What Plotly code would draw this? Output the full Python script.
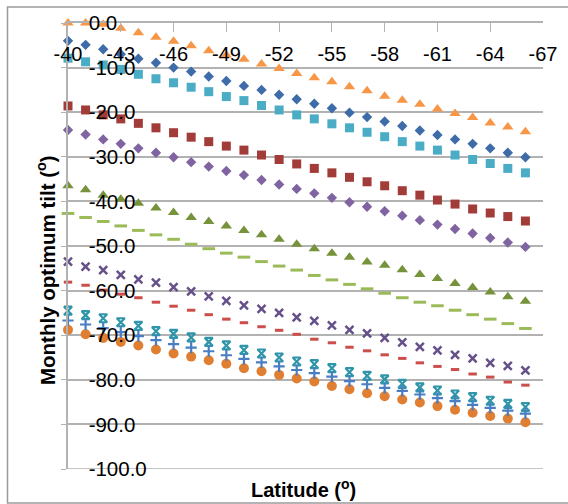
import plotly.graph_objects as go

# ---------------- data ----------------
latitude = [-40, -41, -42, -43, -44, -45, -46, -47, -48, -49, -50, -51, -52, -53,
            -54, -55, -56, -57, -58, -59, -60, -61, -62, -63, -64, -65, -66]

x_tick_vals = [-40, -43, -46, -49, -52, -55, -58, -61, -64, -67]
x_tick_text = ["-40", "-43", "-46", "-49", "-52", "-55", "-58", "-61", "-64", "-67"]
y_tick_vals = [0, -10, -20, -30, -40, -50, -60, -70, -80, -90, -100]
y_tick_text = ["0.0", "-10.0", "-20.0", "-30.0", "-40.0", "-50.0", "-60.0",
               "-70.0", "-80.0", "-90.0", "-100.0"]

jan = [-4.0, -4.9, -5.9, -7.0, -8.0, -8.9, -10.0, -10.9, -12.0, -13.0, -14.1, -15.0, -16.1, -17.1,
       -18.1, -19.1, -20.1, -21.1, -22.1, -23.1, -24.1, -25.1, -26.1, -27.1, -28.1, -29.1, -30.1]
feb = [-18.6, -19.5, -20.6, -21.5, -22.5, -23.5, -24.6, -25.6, -26.6, -27.6, -28.5, -29.6, -30.6, -31.6,
       -32.6, -33.6, -34.6, -35.6, -36.5, -37.6, -38.6, -39.7, -40.6, -41.7, -42.6, -43.4, -44.4]
mar = [-36.5, -37.4, -38.6, -39.5, -40.4, -41.5, -42.5, -43.6, -44.5, -45.5, -46.5, -47.5, -48.5, -49.6,
       -50.6, -51.6, -52.5, -53.6, -54.3, -55.3, -56.4, -57.3, -58.4, -59.3, -60.3, -61.4, -62.4]
apr = [-53.5, -54.6, -55.4, -56.5, -57.5, -58.2, -59.2, -60.2, -61.3, -62.3, -63.3, -64.1, -65.0, -66.0,
       -66.8, -67.8, -68.8, -69.6, -70.6, -71.6, -72.6, -73.4, -74.4, -75.2, -76.2, -76.9, -77.9]
may = [-64.5, -65.5, -66.2, -67.1, -67.9, -69.1, -69.7, -70.5, -71.5, -72.3, -73.3, -74.1, -75.0, -75.9,
       -76.5, -77.4, -78.3, -79.1, -79.9, -80.9, -81.7, -82.4, -83.3, -83.9, -84.7, -85.4, -86.1]
jun = [-68.8, -69.8, -70.6, -71.5, -72.3, -73.2, -74.1, -74.8, -75.6, -76.4, -77.4, -78.1, -78.9, -79.7,
       -80.4, -81.4, -82.1, -83.0, -83.7, -84.4, -85.1, -85.9, -86.7, -87.4, -88.1, -88.7, -89.5]
jul = [-66.7, -67.6, -68.4, -69.3, -70.2, -71.1, -72.0, -72.8, -73.6, -74.5, -75.3, -76.1, -77.0, -77.8,
       -78.5, -79.3, -80.3, -81.0, -81.8, -82.5, -83.3, -84.1, -84.8, -85.6, -86.3, -86.9, -87.6]
aug = [-58.1, -58.8, -59.9, -60.8, -61.6, -62.6, -63.5, -64.4, -65.4, -66.4, -67.2, -68.1, -68.9, -69.8,
       -70.9, -71.7, -72.7, -73.5, -74.4, -75.2, -76.2, -77.0, -77.7, -78.7, -79.4, -80.5, -81.2]
sep = [-42.7, -43.6, -44.5, -45.5, -46.5, -47.5, -48.5, -49.6, -50.6, -51.6, -52.5, -53.5, -54.5, -55.4,
       -56.6, -57.6, -58.6, -59.6, -60.6, -61.6, -62.6, -63.4, -64.4, -65.4, -66.4, -67.4, -68.5]
oct_ = [-24.0, -25.0, -26.1, -27.1, -28.1, -29.1, -30.1, -31.2, -32.2, -33.2, -34.1, -35.2, -36.2, -37.2,
        -38.2, -39.2, -40.2, -41.2, -42.2, -43.2, -44.2, -45.2, -46.2, -47.2, -48.2, -49.2, -50.2]
nov = [-7.9, -8.7, -9.4, -10.4, -11.5, -12.5, -13.4, -14.4, -15.4, -16.5, -17.4, -18.5, -19.5, -20.6,
       -21.5, -22.6, -23.5, -24.5, -25.5, -26.6, -27.6, -28.5, -29.6, -30.6, -31.5, -32.6, -33.6]
dec = [0.0, 0.0, -0.3, -1.2, -2.2, -3.2, -4.1, -5.1, -6.2, -7.2, -8.1, -9.2, -10.2, -11.3,
       -12.3, -13.2, -14.3, -15.2, -16.4, -17.3, -18.2, -19.3, -20.3, -21.2, -22.4, -23.3, -24.4]

series_names = ["Jan", "Feb", "Mar", "Apr", "May", "Jun", "Jul", "Aug", "Sep", "Oct", "Nov", "Dec"]
series_values = [jan, feb, mar, apr, may, jun, jul, aug, sep, oct_, nov, dec]

# ---------------- styles ----------------
styles = [
    dict(symbol="diamond", size=8, color="#3D6CA8", lw=0),
    dict(symbol="square", size=9, color="#A23C39", lw=0),
    dict(symbol="triangle-up", size=10, color="#76933C", lw=0),
    dict(symbol="x-thin", size=8, color="#65508A", lw=2.5),
    dict(symbol="hourglass-open", size=8, color="#2F95A8", lw=2.2),
    dict(symbol="circle", size=10, color="#E07E32", lw=0),
    dict(symbol="cross-thin", size=8, color="#4A7EC4", lw=2.2),
    dict(symbol="line-ew", size=6, color="#CC4E4B", lw=3),
    dict(symbol="line-ew", size=9, color="#9BBB59", lw=3),
    dict(symbol="diamond", size=8, color="#8064A2", lw=0),
    dict(symbol="square", size=9, color="#4BACC6", lw=0),
    dict(symbol="triangle-up", size=10, color="#F79646", lw=0),
]

fig = go.Figure()
for name, vals, st in zip(series_names, series_values, styles):
    fig.add_trace(go.Scatter(
        x=latitude, y=vals, mode="markers", name=name, cliponaxis=False,
        marker=dict(symbol=st["symbol"], size=st["size"], color=st["color"],
                    line=dict(width=st["lw"], color=st["color"])),
    ))

font_family = "Liberation Sans, Arial, sans-serif"
grid_col = "#B2B2B2"

fig.update_layout(
    width=568, height=504,
    margin=dict(l=68, r=25, t=23, b=35),
    paper_bgcolor="white", plot_bgcolor="white",
    showlegend=False,
    font=dict(family=font_family, color="black"),
    xaxis=dict(
        range=[-40, -67], side="top", tickvals=x_tick_vals, ticktext=x_tick_text,
        ticks="inside", ticklen=9, tickcolor=grid_col, tickwidth=1,
        ticklabelposition="inside", ticklabeloverflow="allow", ticklabelstandoff=16,
        showline=True, linecolor=grid_col, linewidth=1.5,
        showgrid=False, zeroline=False, automargin=False,
        tickfont=dict(size=20, family=font_family, color="black"),
    ),
    yaxis=dict(
        range=[-100, 0], tickvals=y_tick_vals, ticktext=y_tick_text,
        ticks="outside", ticklen=5, tickcolor=grid_col,
        ticklabelposition="inside", ticklabeloverflow="allow", ticklabelstandoff=22,
        showline=True, linecolor=grid_col, linewidth=1.5,
        showgrid=True, gridcolor=grid_col, gridwidth=1.5, zeroline=False, automargin=False,
        tickfont=dict(size=20.5, family=font_family, color="black"),
    ),
)

# bottom gridline at -100 (edge of plot area)
fig.add_shape(type="line", xref="paper", yref="y", x0=0, x1=1, y0=-100, y1=-100,
              line=dict(color=grid_col, width=1.5), layer="below")

# chart frame
fig.add_shape(type="rect", xref="paper", yref="paper",
              x0=(7.5 - 68) / 475, x1=(575 - 68) / 475,
              y0=(469 - 503) / 446, y1=(469 - 7) / 446,
              line=dict(color="#9A9A9A", width=1.5), fillcolor="rgba(0,0,0,0)", layer="below")

# axis titles
fig.add_annotation(text="Monthly optimum tilt (<sup>o</sup>)", xref="paper", yref="paper",
                   x=(46 - 68) / 475, y=(469 - 270) / 446, textangle=-90, showarrow=False,
                   xanchor="center", yanchor="middle",
                   font=dict(size=20.5, family=font_family, color="black", weight="bold"))
fig.add_annotation(text="Latitude (<sup>o</sup>)", xref="paper", yref="paper",
                   x=(303 - 68) / 475, y=(469 - 488) / 446, showarrow=False,
                   xanchor="center", yanchor="middle",
                   font=dict(size=20, family=font_family, color="black", weight="bold"))

fig.write_html("out.html", config={"displayModeBar": False},
               post_script="document.body.style.margin='0';document.body.style.overflow='hidden';")
